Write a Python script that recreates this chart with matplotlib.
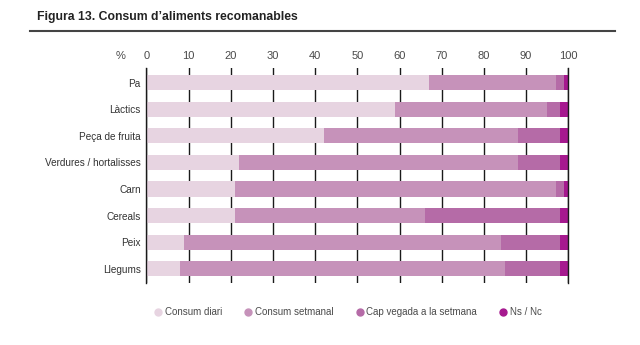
import matplotlib
matplotlib.use("Agg")
import matplotlib.pyplot as plt
from matplotlib.lines import Line2D
import numpy as np

plt.rcParams['font.family'] = ['Liberation Sans', 'DejaVu Sans']

categories = ["Pa", "Làctics", "Peça de fruita", "Verdures / hortalisses",
              "Carn", "Cereals", "Peix", "Llegums"]
series_names = ["Consum diari", "Consum setmanal",
                "Cap vegada a la setmana", "Ns / Nc"]
diari = [67, 59, 42, 22, 21, 21, 9, 8]
setmanal = [30, 36, 46, 66, 76, 45, 75, 77]
cap_vegada = [2, 3, 10, 10, 2, 32, 14, 13]
ns_nc = [1, 2, 2, 2, 1, 2, 2, 2]
ticks = [0, 10, 20, 30, 40, 50, 60, 70, 80, 90, 100]

colors = ["#e7d4e1", "#c692ba", "#b56ba7", "#a6198f"]
text_col = "#4a4a4a"

fig = plt.figure(figsize=(6.4, 3.45), dpi=100)
ax = fig.add_axes([0.2286, 0.180, 0.6594, 0.623])

y = np.arange(len(categories))
left = np.zeros(len(categories))
for vals, c in zip([diari, setmanal, cap_vegada, ns_nc], colors):
    ax.barh(y, vals, left=left, height=0.57, color=c, zorder=2)
    left += np.array(vals)

ax.set_xlim(0, 100)
ax.set_ylim(len(categories) - 0.47, -0.55)
ax.set_xticks(ticks)
ax.xaxis.tick_top()
ax.tick_params(axis='x', length=0, pad=5, labelsize=8, labelcolor=text_col)
ax.tick_params(axis='y', length=0, pad=4, labelsize=7.2, labelcolor="#333333")
ax.set_yticks(y)
ax.set_yticklabels(categories)
ax.grid(axis='x', color="#1a1a1a", linewidth=1.0, zorder=1)
ax.set_axisbelow(True)
for s in ["top", "bottom"]:
    ax.spines[s].set_visible(False)
for s in ["left", "right"]:
    ax.spines[s].set_color("#1a1a1a")
    ax.spines[s].set_linewidth(1.0)

fig.text(0.188, 1 - 56 / 345, "%", fontsize=8, color=text_col,
         ha='center', va='center')

fig.text(37 / 640, 1 - 17 / 345, "Figura 13. Consum d\u2019aliments recomanables",
         fontsize=8.8, fontweight='bold', color="#222222", va='center')
fig.add_artist(Line2D([30 / 640, 615 / 640], [1 - 31 / 345, 1 - 31 / 345],
                      color="#444444", linewidth=1.5))

handles = [Line2D([], [], marker='o', linestyle='none', markersize=5,
                  markerfacecolor=c, markeredgecolor=c) for c in colors]
fig.legend(handles, series_names, loc='center', ncol=4, frameon=False,
           bbox_to_anchor=(0.543, 1 - 312 / 345), fontsize=7,
           labelcolor=text_col, handletextpad=0.2, columnspacing=2.2,
           handlelength=1.0)

fig.savefig("out.png", dpi=100)
